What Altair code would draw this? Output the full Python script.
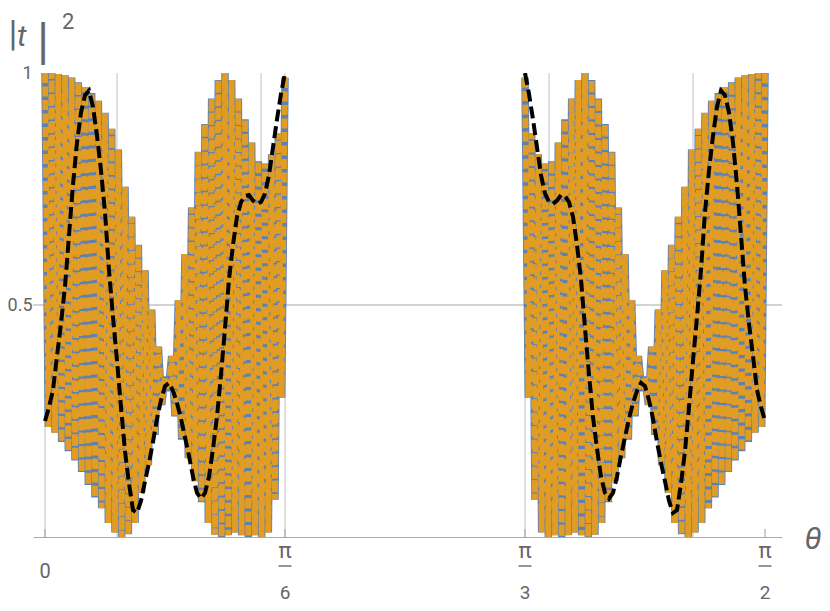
import altair as alt
import pandas as pd

# half-period sampling offsets (degrees) inside each branch
osc_offset = [0, 0.417, 0.833, 1.25, 1.667, 2.083,
              2.5, 2.917, 3.333, 3.75, 4.167, 4.583,
              5, 5.417, 5.833, 6.25, 6.667, 7.083,
              7.5, 7.917, 8.333, 8.75, 9.167, 9.583,
              10, 10.417, 10.833, 11.25, 11.667, 12.083,
              12.5, 12.917, 13.333, 13.75, 14.167, 14.583,
              15, 15.417, 15.833, 16.25, 16.667, 17.083,
              17.5, 17.917, 18.333, 18.75, 19.167, 19.583,
              20, 20.417, 20.833, 21.25, 21.667, 22.083,
              22.5, 22.917, 23.333, 23.75, 24.167, 24.583,
              25, 25.417, 25.833, 26.25, 26.667, 27.083,
              27.5, 27.917, 28.333, 28.75, 29.167, 29.583,
              30]

# oscillation crests / troughs, branch 0..pi/6
crest_left = [1.00, 1.00, 0.998, 0.995, 0.99, 0.98, 0.97, 0.957, 0.94, 0.914,
              0.88, 0.835, 0.755, 0.69, 0.63, 0.575, 0.49, 0.41, 0.345, 0.39,
              0.51, 0.61, 0.71, 0.83, 0.89, 0.945, 0.985, 1.00, 0.985, 0.945,
              0.90, 0.85, 0.81, 0.805, 0.825, 0.87, 0.99]
trough_left = [0.237, 0.225, 0.205, 0.185, 0.165, 0.14, 0.112, 0.085, 0.062, 0.03,
               0.01, 0.0, 0.006, 0.03, 0.095, 0.155, 0.22, 0.285, 0.315, 0.26,
               0.21, 0.17, 0.12, 0.075, 0.03, 0.005, 0.0, 0.004, 0.01, 0.004,
               0.0, 0.004, 0.0, 0.01, 0.08, 0.30]
# branch pi/3..pi/2
crest_right = [0.99, 0.87, 0.825, 0.805, 0.81, 0.85, 0.90, 0.945, 0.985, 1.00,
               0.985, 0.945, 0.89, 0.83, 0.71, 0.61, 0.51, 0.39, 0.345, 0.41,
               0.49, 0.575, 0.63, 0.69, 0.755, 0.835, 0.88, 0.914, 0.94, 0.957,
               0.97, 0.98, 0.99, 0.995, 0.998, 1.00, 1.00]
trough_right = [0.30, 0.08, 0.01, 0.0, 0.004, 0.0, 0.004, 0.01, 0.004, 0.0,
                0.005, 0.03, 0.075, 0.12, 0.17, 0.21, 0.26, 0.315, 0.285, 0.22,
                0.155, 0.095, 0.03, 0.006, 0.0, 0.01, 0.03, 0.062, 0.085, 0.112,
                0.14, 0.165, 0.185, 0.205, 0.225, 0.237]

# smooth (dashed black) curve
smooth_offset = [0, 0.5, 1, 1.5, 2, 2.5, 3, 3.5, 4, 4.5, 5, 5.5, 6, 6.5, 7, 7.5,
                 8, 8.5, 9, 9.5, 10, 10.5, 11, 11.5, 12, 12.5, 13, 13.5, 14, 14.5,
                 15, 15.5, 16, 16.5, 17, 17.5, 18, 18.5, 19, 19.5, 20, 20.5, 21,
                 21.5, 22, 22.5, 23, 23.5, 24, 24.5, 25, 25.5, 26, 26.5, 27, 27.5,
                 28, 28.5, 29, 29.5, 30]
smooth_left = [0.25, 0.28, 0.317, 0.39, 0.46, 0.54, 0.65, 0.76, 0.85, 0.915,
               0.952, 0.962, 0.927, 0.865, 0.79, 0.70, 0.575, 0.474, 0.38, 0.28,
               0.185, 0.115, 0.058, 0.052, 0.078, 0.12, 0.16, 0.205, 0.255, 0.295,
               0.325, 0.332, 0.315, 0.289, 0.255, 0.215, 0.175, 0.13, 0.095, 0.083,
               0.095, 0.13, 0.19, 0.259, 0.35, 0.45, 0.555, 0.63, 0.69, 0.722,
               0.735, 0.737, 0.725, 0.718, 0.722, 0.74, 0.78, 0.84, 0.90, 0.955,
               1.0]
smooth_right = [1.0, 0.955, 0.90, 0.84, 0.78, 0.74, 0.722, 0.718, 0.725, 0.737,
                0.735, 0.722, 0.69, 0.63, 0.555, 0.45, 0.35, 0.259, 0.19, 0.13,
                0.095, 0.083, 0.095, 0.13, 0.175, 0.215, 0.255, 0.289, 0.315, 0.332,
                0.325, 0.295, 0.255, 0.205, 0.16, 0.12, 0.078, 0.052, 0.058, 0.115,
                0.185, 0.28, 0.38, 0.474, 0.575, 0.70, 0.79, 0.865, 0.927, 0.962,
                0.952, 0.915, 0.85, 0.76, 0.65, 0.54, 0.46, 0.39, 0.317, 0.28,
                0.25]

branch_start = [0, 60]
grid_deg = [0, 9, 27, 30, 60, 63, 81]
tick_deg = [0, 30, 60, 90]
tick_num = ["", "π", "π", "π"]
tick_den = ["", "6", "3", "2"]
tick_zero = ["0", "", "", ""]

rows = []
for seg, base, cr, tr in [("a", branch_start[0], crest_left, trough_left),
                          ("b", branch_start[1], crest_right, trough_right)]:
    for i, off in enumerate(osc_offset):
        v = cr[i // 2] if i % 2 == 0 else tr[i // 2]
        rows.append({"seg": seg, "deg": base + off, "val": v, "idx": i})
osc = pd.DataFrame(rows)

srows = []
for seg, base, vals in [("a", branch_start[0], smooth_left), ("b", branch_start[1], smooth_right)]:
    for i, off in enumerate(smooth_offset):
        srows.append({"seg": seg, "deg": base + off, "val": vals[i], "idx": i})
smooth = pd.DataFrame(srows)

grid_df = pd.DataFrame({"deg": grid_deg, "lo": [0] * len(grid_deg), "hi": [1] * len(grid_deg)})
hgrid_df = pd.DataFrame({"val": [0.5]})
ticks_df = pd.DataFrame({"deg": tick_deg, "num": tick_num, "den": tick_den, "zero": tick_zero})

W, H = 749, 464
GREY = "#666666"
xscale = alt.Scale(domain=[-1.5, 92.125], nice=False, zero=False)
yscale = alt.Scale(domain=[0, 1], nice=False, zero=False)
xaxis = alt.Axis(domain=True, domainColor="#aaaaaa", domainWidth=1.2, ticks=False,
                 labels=False, grid=False, title=None)
yaxis = alt.Axis(values=[0.5, 1], domain=False, ticks=False, grid=False, title=None,
                 labelExpr="datum.value == 1 ? '1' : '0.5'", labelFontSize=18,
                 labelColor=GREY, labelFont="Roboto", labelPadding=1)


def X(f="deg:Q"):
    return alt.X(f, scale=xscale, axis=xaxis)


def Y(f="val:Q"):
    return alt.Y(f, scale=yscale, axis=yaxis)


vgrid = alt.Chart(grid_df).mark_rule(color="#cfcfcf", strokeWidth=1.3).encode(
    x=X(), y=Y("lo:Q"), y2="hi:Q")
hgrid = alt.Chart(hgrid_df).mark_rule(color="#c4c4c4", strokeWidth=1.3).encode(y=Y())

blue = alt.Chart(osc).mark_line(color="#5E81B5", strokeWidth=7.5, strokeJoin="bevel",
                                clip=True).encode(
    x=X(), y=Y(), detail="seg:N", order="idx:Q")
orange = alt.Chart(osc).mark_line(color="#E19C24", strokeWidth=5.8, strokeJoin="bevel",
                                  strokeCap="butt", strokeDash=[10, 3.5], clip=True).encode(
    x=X(), y=Y(), detail="seg:N", order="idx:Q")
black = alt.Chart(smooth).mark_line(color="black", strokeWidth=4, strokeDash=[12, 5],
                                    strokeCap="butt", clip=True).encode(
    x=X(), y=Y(), detail="seg:N", order="idx:Q")

ticks = alt.Chart(ticks_df).mark_rule(color="#aaaaaa", strokeWidth=1.2).encode(
    x=X(), y=alt.value(H), y2=alt.value(H - 8))

lab_num = alt.Chart(ticks_df).mark_text(fontSize=22, font="Roboto", color=GREY,
                                        baseline="alphabetic").encode(
    x=X(), y=alt.value(485), text="num:N")
lab_bar = alt.Chart(ticks_df[ticks_df["num"] != ""]).mark_tick(
    orient="horizontal", size=13, thickness=2, color=GREY).encode(
    x=X(), y=alt.value(493))
lab_den = alt.Chart(ticks_df).mark_text(fontSize=19, font="Roboto", color=GREY,
                                        baseline="alphabetic").encode(
    x=X(), y=alt.value(526), text="den:N")
lab_zero = alt.Chart(ticks_df).mark_text(fontSize=20, font="Roboto", color=GREY,
                                         baseline="alphabetic").encode(
    x=X(), y=alt.value(505), text="zero:N")

title_df = pd.DataFrame({"t": ["|", "t", "|", "2", "θ"], "k": [0, 1, 2, 3, 4]})
t0 = alt.Chart(title_df[title_df.k == 0]).mark_text(
    fontSize=31, font="DejaVu Sans", color=GREY, align="center",
    baseline="alphabetic").encode(x=alt.value(-20), y=alt.value(-30), text="t:N")
t1 = alt.Chart(title_df[title_df.k == 1]).mark_text(
    fontSize=30, font="Roboto", fontStyle="italic", color=GREY, align="left",
    baseline="alphabetic").encode(x=alt.value(-16), y=alt.value(-27), text="t:N")
t2 = alt.Chart(title_df[title_df.k == 2]).mark_text(
    fontSize=42, font="DejaVu Sans", color=GREY, align="center",
    baseline="alphabetic").encode(x=alt.value(10), y=alt.value(-18), text="t:N")
t3 = alt.Chart(title_df[title_df.k == 3]).mark_text(
    fontSize=22, font="Roboto", color=GREY, align="left",
    baseline="alphabetic").encode(x=alt.value(29), y=alt.value(-44), text="t:N")
t4 = alt.Chart(title_df[title_df.k == 4]).mark_text(
    fontSize=31, font="Roboto", fontStyle="italic", color=GREY, align="center",
    baseline="alphabetic").encode(x=alt.value(780), y=alt.value(476), text="t:N")

chart = alt.layer(vgrid, hgrid, blue, orange, black, ticks, lab_num, lab_bar, lab_den,
                  lab_zero, t0, t1, t2, t3, t4).properties(
    width=W, height=H,
    autosize=alt.AutoSizeParams(type="none"),
    padding={"left": 25, "top": 65, "right": 40, "bottom": 66},
).configure_view(stroke=None)

chart.save("out.html", embed_options={"renderer": "svg", "actions": False})
